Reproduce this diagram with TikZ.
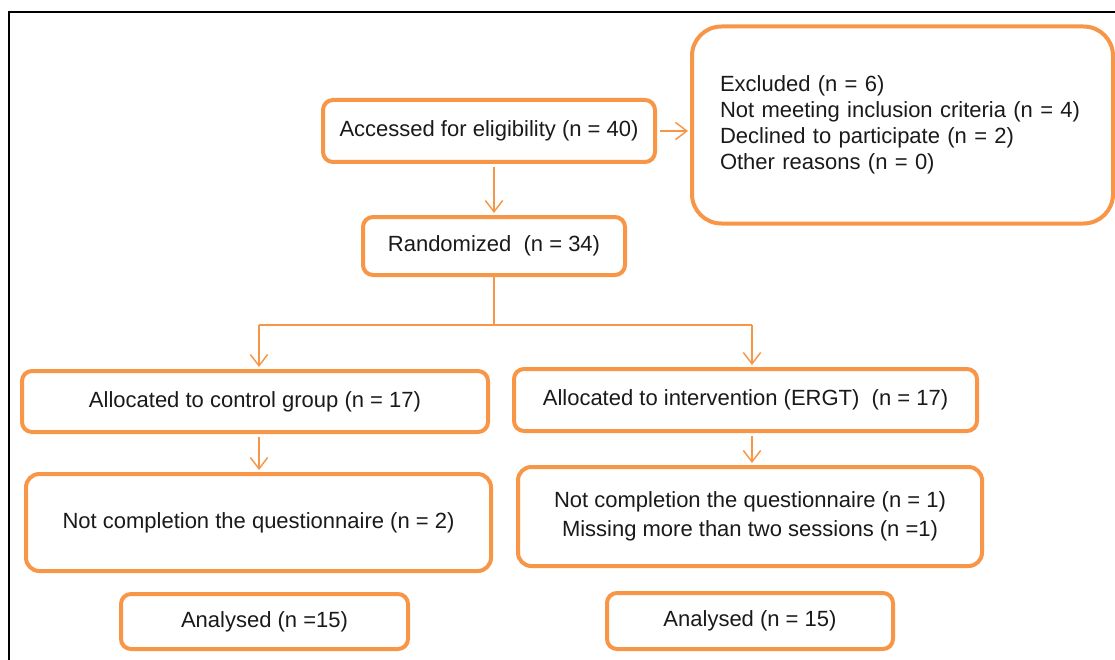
\documentclass[tikz,border=0pt]{standalone}
\usepackage{fontspec}
\setmainfont{Liberation Sans}
\usetikzlibrary{arrows.meta}
\definecolor{flowOrange}{HTML}{F79646}
\definecolor{flowInk}{HTML}{1A1A1A}
\tikzset{
  every picture/.style={font=\fontsize{16.5}{19.5}\selectfont, text=flowInk},
  flow box/.style={draw=flowOrange, line width=3pt, rounded corners=7.5pt,
    fill=white, align=center, inner sep=0pt},
  flow note/.style={flow box, rounded corners=22pt, align=left},
  flow line/.style={draw=flowOrange, line width=1.1pt},
  flow arrow/.style={flow line, -{Straight Barb[length=8.5pt,width=13pt]},
    shorten <=2pt, shorten >=1.5pt},
  flow frame/.style={draw=black, line width=1.6pt}
}

\begin{document}
\begin{tikzpicture}[x=0.75pt,y=-0.75pt]
  \useasboundingbox (0,0) rectangle (1115,660);
  \draw[flow frame] (9,660) -- (9,12) -- (1115,12);

  % enrolment
  \node[flow box, minimum width=249pt, minimum height=46.5pt] (access) at (489,131)
    {Accessed for eligibility (n = 40)};
  \node[flow note, minimum width=315.75pt, minimum height=147.75pt, text width=273.75pt] (excluded) at (902.5,125)
    {Excluded (n = 6)\\
     Not meeting inclusion criteria (n = 4)\\
     Declined to participate (n = 2)\\
     Other reasons (n = 0)};
  \node[flow box, minimum width=196.5pt, minimum height=43.5pt] (random) at (494,246)
    {Randomized\ \ (n = 34)};

  % allocation
  \node[flow box, minimum width=349.5pt, minimum height=45.75pt] (control) at (255,401.5)
    {Allocated to control group (n = 17)};
  \node[flow box, minimum width=347.25pt, minimum height=46.5pt] (ergt) at (745.5,400)
    {Allocated to intervention (ERGT)\ \ (n = 17)};

  % follow-up
  \node[flow box, rounded corners=10pt, minimum width=348.75pt, minimum height=72.75pt] (lostC) at (258.5,522.5)
    {Not completion the questionnaire (n = 2)};
  \node[flow box, rounded corners=10pt, minimum width=348pt, minimum height=74.25pt] (lostI) at (750,516.5)
    {Not completion the questionnaire (n = 1)\\[2pt]
     Missing more than two sessions (n =1)};

  % analysis
  \node[flow box, minimum width=215.25pt, minimum height=41.25pt] (analysedC) at (264.5,621.5)
    {Analysed (n =15)};
  \node[flow box, minimum width=214.5pt, minimum height=42pt] (analysedI) at (750,621)
    {Analysed (n = 15)};

  \coordinate (split) at (494,325);
  \coordinate (splitL) at (259,325);
  \coordinate (splitR) at (752,325);

  \draw[flow arrow] (access.south -| random.north) -- (random.north);
  \draw[flow arrow] (access.east) -- (access.east -| excluded.west);
  \draw[flow line] (random.south) -- (split);
  \draw[flow line] (splitL) -- (splitR);
  \draw[flow arrow, shorten <=0pt] (splitL) -- (splitL |- control.north);
  \draw[flow arrow, shorten <=0pt] (splitR) -- (splitR |- ergt.north);
  \draw[flow arrow] (splitL |- control.south) -- (splitL |- lostC.north);
  \draw[flow arrow] (splitR |- ergt.south) -- (splitR |- lostI.north);
\end{tikzpicture}
\end{document}
